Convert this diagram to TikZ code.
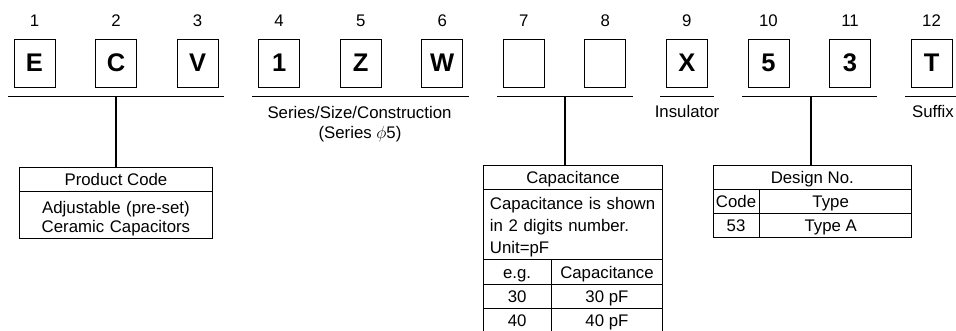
\documentclass[tikz,border=0pt]{standalone}
\usepackage{fontspec}
\setmainfont{Liberation Sans}
\begin{document}
\begin{tikzpicture}[x=1pt,y=-1pt,
  txt/.style={font=\fontsize{16.8}{19.5}\selectfont, inner sep=0pt, text height=11.8pt, text depth=0pt},
  letterbox/.style={draw, line width=0.9pt, minimum width=41pt, minimum height=47.7pt, inner sep=0pt,
    font=\fontsize{25.5}{25.5}\selectfont\bfseries},
  bar/.style={line width=1.2pt},
  conn/.style={line width=1.2pt},
  cell/.style={draw, line width=0.9pt, inner sep=0pt, anchor=north west,
    font=\fontsize{16.8}{19.5}\selectfont},
  onecell/.style={cell, text height=11.8pt, text depth=0pt},
]
\useasboundingbox (0,0) rectangle (956,331);

% code letters and position numbers
\foreach \t [count=\i] in {E,C,V,1,Z,W,{},{},X,5,3,T} {
  \node[letterbox] (k\i) at ({34.5+81.55*(\i-1)},63.2) {\t};
  \node[txt] (n\i) at ({34.5+81.55*(\i-1)},20.3) {\i};
}

% group bars
\coordinate (b1l) at (8,96.5);   \coordinate (b1r) at (224,96.5);
\coordinate (b2l) at (252,96.5); \coordinate (b2r) at (469,96.5);
\coordinate (b3l) at (497,96.5); \coordinate (b3r) at (633,96.5);
\coordinate (b4l) at (660,96.5); \coordinate (b4r) at (714,96.5);
\coordinate (b5l) at (742,96.5); \coordinate (b5r) at (877,96.5);
\coordinate (b6l) at (905,96.5); \coordinate (b6r) at (962,96.5);
\foreach \b in {1,...,6} { \draw[bar] (b\b l) -- (b\b r); }

\coordinate (b1m) at (116,96.5);
\coordinate (b3m) at (565,96.5);
\coordinate (b5m) at (811,96.5);

% labels under bars
\node[txt] (ssc) at (359.5,112.5) {Series/Size/Construction};
\node[txt] (ser) at (360,132.7) {(Series $\phi$5)};
\node[txt] (ins) at (687,111.7) {Insulator};
\node[txt] (suf) at (933,111.7) {Suffix};

% Product Code table
\node[onecell, minimum width=192.4pt, minimum height=24pt] (pch) at (19.3,166.7) {Product Code};
\node[cell, minimum width=192.4pt, minimum height=47.5pt, text width=190pt, align=center,
  font=\fontsize{16.8}{19.3}\selectfont, text height=12pt, text depth=15.7pt] (pcb) at (19.3,190.7)
  {Adjustable (pre-set)\\Ceramic Capacitors};

% Capacitance table
\node[onecell, minimum width=179.6pt, minimum height=24.3pt] (cah) at (482.7,165) {Capacitance};
\node[cell, minimum width=179.6pt, minimum height=70pt, text width=166pt, align=left,
  font=\fontsize{16.8}{21.7}\selectfont, text height=12pt, text depth=42.2pt] (cab) at (482.7,189.3)
  {Capacitance is shown\\in 2 digits number.\\Unit=pF};
\node[onecell, minimum width=68pt, minimum height=25pt] (r1a) at (482.7,259.3) {e.g.};
\node[onecell, minimum width=111.6pt, minimum height=25pt] (r1b) at (550.7,259.3) {Capacitance};
\node[onecell, minimum width=68pt, minimum height=23.4pt] (r2a) at (482.7,284.3) {30};
\node[onecell, minimum width=111.6pt, minimum height=23.4pt] (r2b) at (550.7,284.3) {30 pF};
\node[onecell, minimum width=68pt, minimum height=25pt] (r3a) at (482.7,307.7) {40};
\node[onecell, minimum width=111.6pt, minimum height=25pt] (r3b) at (550.7,307.7) {40 pF};

% Design No. table
\node[onecell, minimum width=198.3pt, minimum height=24pt] (dnh) at (712.7,165) {Design No.};
\node[onecell, minimum width=45.8pt, minimum height=23.7pt] (d1a) at (712.7,189) {Code};
\node[onecell, minimum width=152.5pt, minimum height=23.7pt] (d1b) at (758.5,189) {\hspace*{-9pt}Type};
\node[onecell, minimum width=45.8pt, minimum height=24pt] (d2a) at (712.7,212.7) {53};
\node[onecell, minimum width=152.5pt, minimum height=24pt] (d2b) at (758.5,212.7) {\hspace*{-9pt}Type A};

% connectors
\draw[conn] (b1m) -- (b1m |- pch.north);
\draw[conn] (b3m) -- (b3m |- cah.north);
\draw[conn] (b5m) -- (b5m |- dnh.north);
\end{tikzpicture}
\end{document}
